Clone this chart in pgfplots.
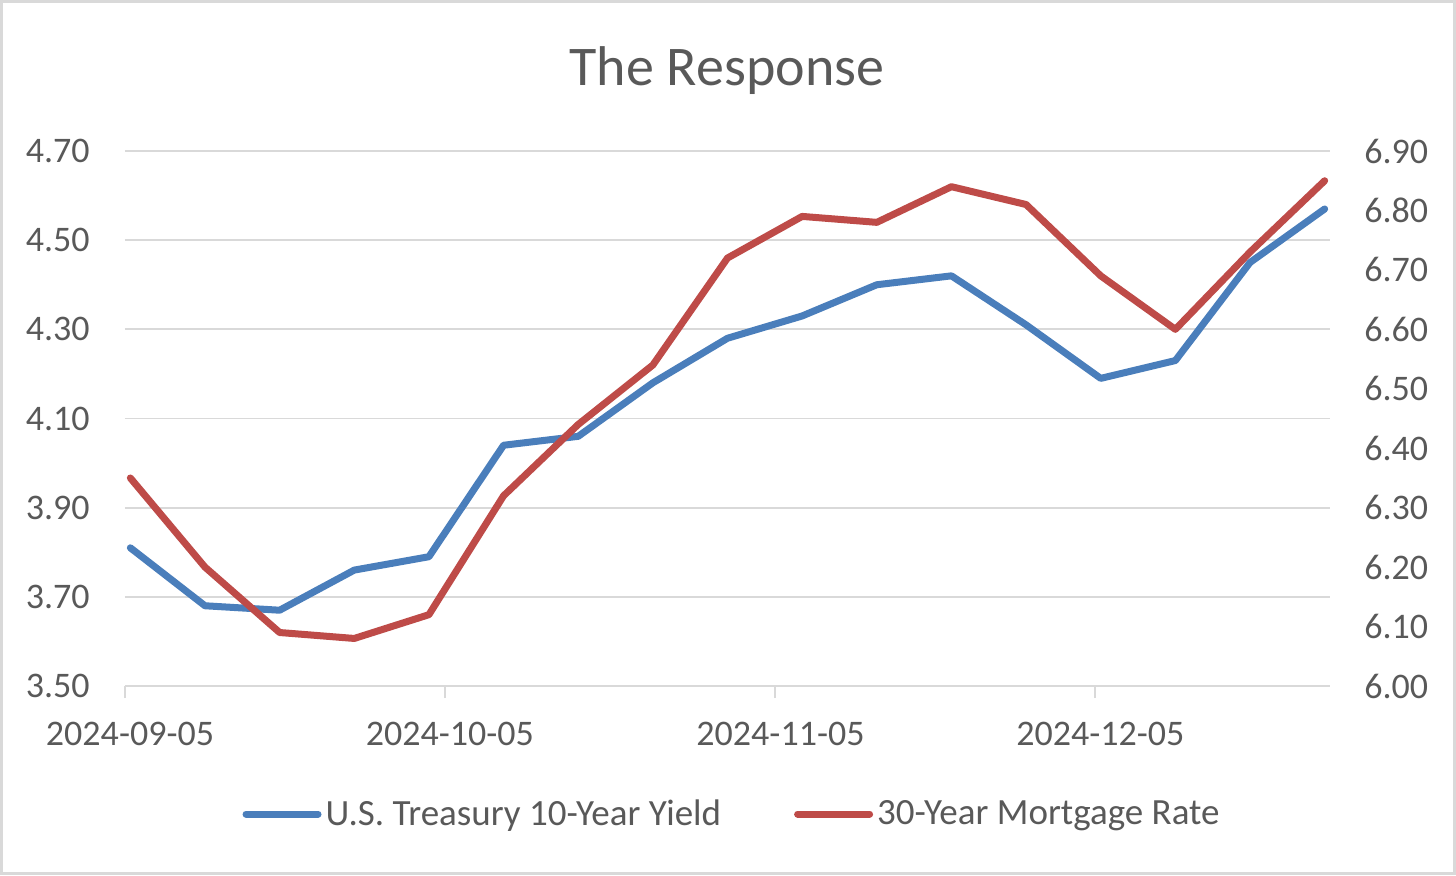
\documentclass[border=0pt]{standalone}
\usepackage{fontspec}
\setmainfont{Carlito}
\usepackage{pgfplots}
\usepackage{pgfplotstable}
\pgfplotsset{compat=1.18}
\definecolor{tblue}{HTML}{4A7EBB}
\definecolor{tred}{HTML}{BE4B48}
\definecolor{gridc}{HTML}{D9D9D9}
\definecolor{txt}{HTML}{595959}

\pgfplotstableread{
x y
0.5 3.81
7.5 3.68
14.5 3.67
21.5 3.76
28.5 3.79
35.5 4.04
42.5 4.06
49.5 4.18
56.5 4.28
63.5 4.33
70.5 4.40
77.5 4.42
84.5 4.31
91.5 4.19
98.5 4.23
105.5 4.45
112.5 4.57
}\tsy

\pgfplotstableread{
x y
0.5 6.35
7.5 6.20
14.5 6.09
21.5 6.08
28.5 6.12
35.5 6.32
42.5 6.44
49.5 6.54
56.5 6.72
63.5 6.79
70.5 6.78
77.5 6.84
84.5 6.81
91.5 6.69
98.5 6.60
105.5 6.73
112.5 6.85
}\mtg

\pgfplotsset{
  base/.style={
    at={(0pt,0pt)}, anchor=south west,
    scale only axis, width=602.5pt, height=267.5pt,
    xmin=0, xmax=113,
    tick label style={font=\fontsize{18}{21}\selectfont, text=txt},
    /pgf/number format/.cd, fixed, fixed zerofill, precision=2, assume math mode=true, /pgfplots/.cd,
  },
}

\begin{document}
\begin{tikzpicture}
\useasboundingbox (-62.5pt,-94.5pt) rectangle (665.5pt,343pt);
\draw[gridc, line width=1.5pt] (-61.75pt,-93.75pt) rectangle (664.75pt,342.25pt);

\begin{axis}[base,
  ymin=3.5, ymax=4.7,
  axis x line*=bottom, axis y line*=left,
  y axis line style={draw=none},
  x axis line style={gridc, line width=1pt},
  xtick={0,30,61,91},
  xticklabels={2024-09-05,2024-10-05,2024-11-05,2024-12-05},
  xtick align=outside,
  x tick style={gridc, line width=1pt},
  major tick length=6pt,
  ytick={3.5,3.7,3.9,4.1,4.3,4.5,4.7},
  y tick style={draw=none},
  ymajorgrids, grid style={gridc, line width=0.85pt},
  yticklabel style={anchor=east, inner sep=0pt, xshift=-17.5pt},
  xticklabel style={anchor=north, inner sep=0pt, yshift=-12pt, xshift=2.5pt},
]
\addplot[tblue, line width=3.5pt, line join=round, line cap=round] table[x=x,y=y] {\tsy};
\end{axis}

\begin{axis}[base,
  ymin=6.0, ymax=6.9,
  axis x line=none, axis y line*=right,
  y axis line style={draw=none},
  ytick={6.0,6.1,6.2,6.3,6.4,6.5,6.6,6.7,6.8,6.9},
  y tick style={draw=none},
  yticklabel style={anchor=west, inner sep=0pt, xshift=17pt},
  legend style={draw=none, fill=none, at={(0.5046,-0.2393)}, anchor=center,
    font=\fontsize{18.5}{21}\selectfont, text=txt,
    /tikz/every even column/.append style={column sep=34.5pt}},
  legend columns=2,
  legend cell align=left,
  legend image code/.code={\draw[#1, line width=3.5pt, line cap=round] (0pt,0pt) -- (36pt,0pt);},
]
\addlegendimage{tblue}
\addlegendentry{U.S. Treasury 10-Year Yield}
\addplot[tred, line width=3.5pt, line join=round, line cap=round] table[x=x,y=y] {\mtg};
\addlegendentry{30-Year Mortgage Rate}
\end{axis}

\node[anchor=base, font=\fontsize{28}{32}\selectfont, text=txt] at (301pt,300.5pt) {The Response};
\end{tikzpicture}
\end{document}
